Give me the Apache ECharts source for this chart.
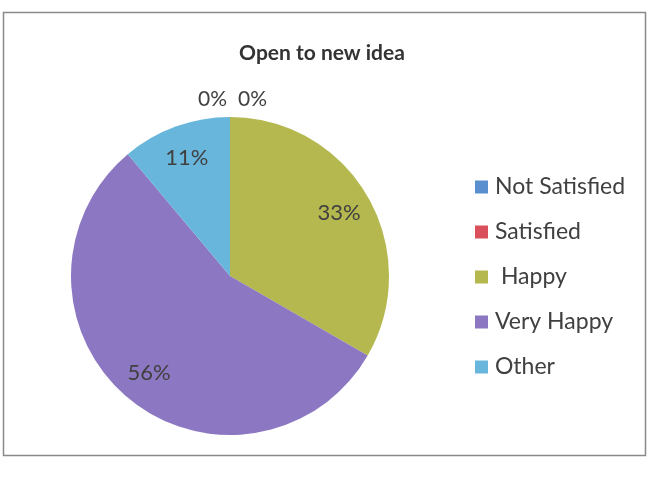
<!DOCTYPE html>
<html>
<head>
<meta charset="utf-8">
<script src="https://cdn.jsdelivr.net/npm/echarts@6/dist/echarts.min.js"></script>
<style>
  html, body { margin: 0; padding: 0; background: #ffffff; }
  #chart { width: 654px; height: 482px; }
</style>
</head>
<body>
<div id="chart"></div>
<script>
// Survey answers for "Open to new idea" (response counts)
const categories = ['Not Satisfied', 'Satisfied', ' Happy', 'Very Happy', 'Other'];
const counts = [0, 0, 3, 5, 1];
const sliceColors = ['#5a8fcf', '#d9505c', '#b4b84f', '#8c78c2', '#68b6dc'];
// nudges so the two empty slices' labels sit side by side above the pie
const zeroLabelShift = [[2, -14], [42, -14]];

const FONT = 'Lato, "Open Sans", sans-serif';
const TEXT = '#404040';
const CENTER = [230, 276];
const R = 159;

const pctFormatter = p => Math.round(p.percent) + '%';

// Base pie: the coloured wedges, plus labels for the empty answers
const baseData = categories.map((name, i) => ({
  name,
  value: counts[i],
  itemStyle: { color: sliceColors[i] },
  label: counts[i] === 0
    ? { show: true, position: 'outside', offset: zeroLabelShift[i] || [0, 0] }
    : { show: false }
}));

// Transparent ring on top whose mid-radius carries the in-slice labels
const labelData = categories.map((name, i) => ({
  name,
  value: counts[i],
  label: { show: counts[i] !== 0 }
}));

const chart = echarts.init(document.getElementById('chart'), null, { renderer: 'canvas' });
chart.setOption({
  animation: false,
  backgroundColor: '#ffffff',
  title: {
    text: 'Open to new idea',
    left: 317,
    textAlign: 'center',
    top: 38,
    textStyle: { fontFamily: FONT, fontSize: 21, fontWeight: 'bold', color: '#333333' }
  },
  legend: {
    orient: 'vertical',
    left: 475,
    top: 175,
    padding: 0,
    icon: 'rect',
    itemWidth: 13,
    itemHeight: 13,
    itemGap: 21,
    data: categories,
    textStyle: { fontFamily: FONT, fontSize: 23, color: TEXT, lineHeight: 24, padding: [0, 0, 0, 2] }
  },
  graphic: [{
    type: 'rect',
    silent: true,
    shape: { x: 3.5, y: 12.5, width: 642, height: 443 },
    style: { fill: 'none', stroke: '#8a8a8a', lineWidth: 1.5 }
  }],
  series: [
    {
      type: 'pie',
      center: CENTER,
      radius: [0, R],
      startAngle: 90,
      clockwise: true,
      avoidLabelOverlap: false,
      silent: true,
      data: baseData,
      label: {
        formatter: pctFormatter,
        fontFamily: FONT,
        fontSize: 21,
        color: TEXT
      },
      labelLine: { show: false, length: 4, length2: 0 },
      itemStyle: { borderWidth: 0 }
    },
    {
      type: 'pie',
      center: CENTER,
      radius: [87, R],
      startAngle: 90,
      clockwise: true,
      avoidLabelOverlap: false,
      silent: true,
      data: labelData,
      itemStyle: { color: 'rgba(0,0,0,0)', borderWidth: 0 },
      label: {
        position: 'inside',
        formatter: pctFormatter,
        fontFamily: FONT,
        fontSize: 22,
        color: TEXT
      },
      labelLine: { show: false }
    }
  ]
});
</script>
</body>
</html>
